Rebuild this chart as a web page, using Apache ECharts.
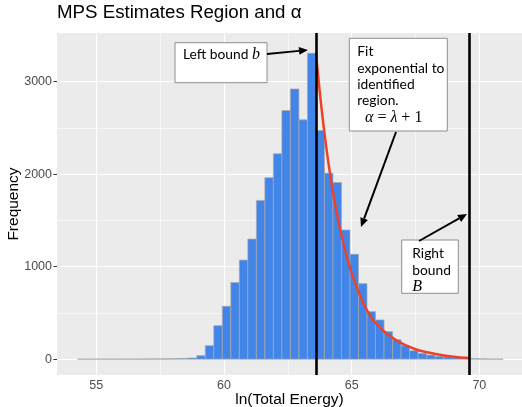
<!DOCTYPE html>
<html><head><meta charset="utf-8">
<script src="https://cdn.jsdelivr.net/npm/echarts@6/dist/echarts.min.js"></script>
<style>html,body{margin:0;padding:0;background:#fff}#c{width:522px;height:407px}</style>
</head><body><div id="c"></div>
<script>
// ---- data ----
const binStart = 54.267;
const binWidth = 1 / 3;
const counts = [1, 0, 1, 1, 1, 2, 2, 2, 3, 3, 4, 6, 8,
  13, 38, 146, 362, 572, 829, 1071, 1298, 1716, 1962, 2221, 2688, 2921, 2587, 3307,
  2472, 2010, 1909, 1397, 1134, 817, 514, 424, 298, 210, 146, 92, 63, 45, 31, 24, 17, 13,
  6, 4, 2, 1];
const fitX = [63.6, 63.8, 64.0, 64.2, 64.4, 64.6, 64.8, 65.0, 65.25, 65.5, 65.75, 66.0, 66.5, 67.0, 67.5, 68.0, 68.5, 69.0, 69.6];
const fitY = [3310, 2760, 2300, 1920, 1600, 1340, 1120, 930, 740, 580, 460, 370, 250, 165, 108, 72, 45, 26, 12];
const leftBound = 63.6;
const rightBound = 69.6;
const xTicks = [55, 60, 65, 70];
const xMinor = [57.5, 62.5, 67.5];
const yTicks = [0, 1000, 2000, 3000];
const yMinor = [500, 1500, 2500];

// ---- chart ----
const chart = echarts.init(document.getElementById('c'), null, {renderer: 'canvas'});
const barData = counts.map((c, i) => [binStart + i * binWidth, binStart + (i + 1) * binWidth, c]);
const SANS = 'Liberation Sans, Arial, sans-serif';
const NOTE = 'Lato, Open Sans, sans-serif';
const MATH = 'Liberation Serif, DejaVu Serif, serif';

function arrow(x1, y1, x2, y2) {
  const a = Math.atan2(y2 - y1, x2 - x1), L = 9, W = 4;
  const bx = x2 - L * Math.cos(a), by = y2 - L * Math.sin(a);
  const px = -Math.sin(a) * W, py = Math.cos(a) * W;
  return [
    {type: 'line', z: 100, shape: {x1: x1, y1: y1, x2: bx, y2: by}, style: {stroke: '#000', lineWidth: 2}},
    {type: 'polygon', z: 100, shape: {points: [[x2, y2], [bx + px, by + py], [bx - px, by - py]]}, style: {fill: '#000'}}
  ];
}
function box(x, y, w, h) {
  return {type: 'rect', z: 100, shape: {x: x, y: y, width: w, height: h}, style: {fill: '#fff', stroke: '#8f8f8f', lineWidth: 1}};
}
function txt(x, y, text, rich) {
  return {type: 'text', z: 101, style: {x: x, y: y, text: text, verticalAlign: 'middle', fill: '#000',
    font: '13.8px ' + NOTE, rich: rich || {}}};
}
const rich = {
  n: {fontFamily: NOTE, fontSize: 13.8, fill: '#000'},
  m: {fontFamily: MATH, fontStyle: 'italic', fontSize: 16, fill: '#000'},
  u: {fontFamily: MATH, fontSize: 16, fill: '#000'}
};

const option = {
  animation: false,
  title: {text: 'MPS Estimates Region and α', left: 57, top: 3, padding: 0,
    textStyle: {fontFamily: SANS, fontSize: 18.7, fontWeight: 'normal', color: '#000'}},
  grid: {left: 57, right: 0, top: 33, bottom: 32, show: true, backgroundColor: '#EBEBEB', borderWidth: 0,
    containLabel: false, outerBoundsMode: 'none'},
  xAxis: {
    type: 'value', min: 53.46, max: 71.67,
    name: 'ln(Total Energy)', nameLocation: 'middle', nameGap: 17, nameMoveOverlap: false,
    nameTextStyle: {fontFamily: SANS, fontSize: 15.5, color: '#000'},
    axisLine: {show: false},
    axisTick: {show: true, length: 3.6, lineStyle: {color: '#333', width: 1}, customValues: xTicks},
    axisLabel: {fontFamily: SANS, fontSize: 12.5, color: '#4D4D4D', margin: 4, customValues: xTicks},
    splitLine: {show: false}
  },
  yAxis: {
    type: 'value', min: -171, max: 3526,
    name: 'Frequency', nameLocation: 'middle', nameGap: 35, nameMoveOverlap: false,
    nameTextStyle: {fontFamily: SANS, fontSize: 15.5, color: '#000'},
    axisLine: {show: false},
    axisTick: {show: true, length: 3.6, lineStyle: {color: '#333', width: 1}, customValues: yTicks},
    axisLabel: {fontFamily: SANS, fontSize: 12.5, color: '#4D4D4D', margin: 5, customValues: yTicks,
      formatter: v => String(v)},
    splitLine: {show: false}
  },
  series: [
    {
      type: 'line', z: 1, data: [[leftBound, 0]], symbolSize: 0, lineStyle: {opacity: 0}, silent: true,
      markLine: {
        z: 1, silent: true, symbol: 'none', label: {show: false}, animation: false,
        data: [].concat(
          yMinor.map(v => ({yAxis: v, lineStyle: {color: '#fff', width: 0.6, type: 'solid'}})),
          xMinor.map(v => ({xAxis: v, lineStyle: {color: '#fff', width: 0.6, type: 'solid'}})),
          yTicks.map(v => ({yAxis: v, lineStyle: {color: '#fff', width: 1.2, type: 'solid'}})),
          xTicks.map(v => ({xAxis: v, lineStyle: {color: '#fff', width: 1.2, type: 'solid'}}))
        )
      }
    },
    {
      type: 'custom', z: 3, data: barData, encode: {x: [0, 1], y: 2},
      renderItem: function (params, api) {
        const p0 = api.coord([api.value(0), api.value(2)]);
        const p1 = api.coord([api.value(1), 0]);
        return {type: 'rect', shape: {x: p0[0], y: p0[1], width: p1[0] - p0[0], height: p1[1] - p0[1]},
          style: {fill: '#4285E8', stroke: '#A9A9A9', lineWidth: 0.7}};
      }
    },
    {
      type: 'line', z: 4, data: fitX.map((x, i) => [x, fitY[i]]), smooth: 0.4, showSymbol: false,
      lineStyle: {color: '#EA4329', width: 2.5}
    },
    {
      type: 'line', z: 5, data: [[rightBound, 0]], symbolSize: 0, lineStyle: {opacity: 0}, silent: true,
      markLine: {
        z: 10, silent: true, symbol: 'none', label: {show: false},
        lineStyle: {color: '#000', width: 2.6, type: 'solid'},
        data: [{xAxis: leftBound}, {xAxis: rightBound}]
      }
    }
  ],
  graphic: [].concat(
    [box(175, 42.7, 92, 40), txt(183, 55, '{n|Left bound }{m|b}', rich)],
    arrow(267, 54, 308, 50),
    [box(349.3, 38.3, 98, 92.7),
      txt(357.3, 51.7, 'Fit'), txt(357.3, 68.1, 'exponential to'), txt(357.3, 84.5, 'identified'),
      txt(357.3, 100.9, 'region.'), txt(365, 117.3, '{m|α}{u| = }{m|λ}{u| + 1}', rich)],
    arrow(396, 132, 361, 227),
    [box(401.7, 240, 56.6, 53.3), txt(412.3, 254, 'Right'), txt(412.3, 270.4, 'bound'),
      txt(412.3, 286.7, '{m|B}', rich)],
    arrow(419, 241, 467, 214)
  )
};
chart.setOption(option);
</script></body></html>
